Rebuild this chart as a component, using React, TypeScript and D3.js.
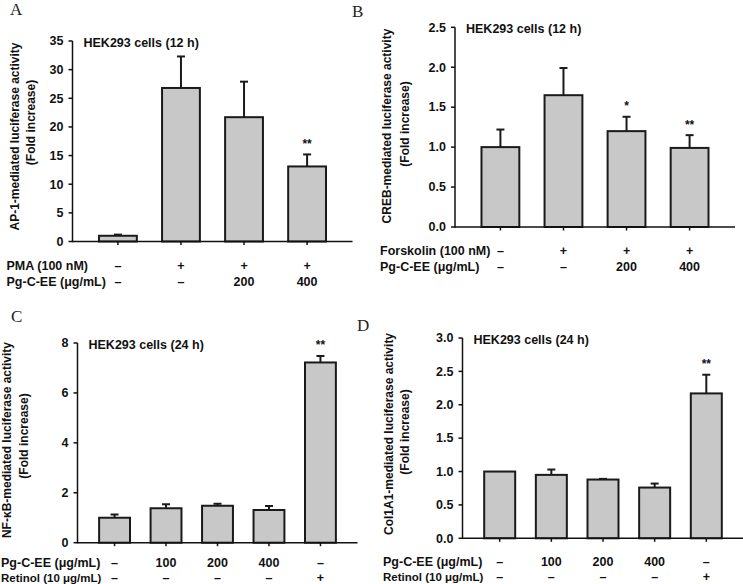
import React from "react";
import * as d3 from "d3";

// ---------- DATA ----------
// Panel A: AP-1
const apValues = [1.0, 26.8, 21.7, 13.1];
const apErrors = [0.2, 5.5, 6.2, 2.1];
const apSig = ["", "", "", "**"];
const apTicks = [0, 5, 10, 15, 20, 25, 30, 35];
const apRow1 = ["–", "+", "+", "+"];
const apRow2 = ["–", "–", "200", "400"];

// Panel B: CREB
const crebValues = [1.0, 1.65, 1.2, 0.99];
const crebErrors = [0.22, 0.34, 0.18, 0.16];
const crebSig = ["", "", "*", "**"];
const crebTicks = [0, 0.5, 1.0, 1.5, 2.0, 2.5];
const crebRow1 = ["–", "+", "+", "+"];
const crebRow2 = ["–", "–", "200", "400"];

// Panel C: NF-kB
const nfkbValues = [1.0, 1.38, 1.48, 1.31, 7.22];
const nfkbErrors = [0.13, 0.16, 0.08, 0.16, 0.26];
const nfkbSig = ["", "", "", "", "**"];
const nfkbTicks = [0, 2, 4, 6, 8];
const nfkbRow1 = ["–", "100", "200", "400", "–"];
const nfkbRow2 = ["–", "–", "–", "–", "+"];

// Panel D: Col1A1
const colValues = [1.0, 0.95, 0.88, 0.76, 2.17];
const colErrors = [0, 0.08, 0.01, 0.06, 0.28];
const colSig = ["", "", "", "", "**"];
const colTicks = [0, 0.5, 1.0, 1.5, 2.0, 2.5, 3.0];
const colRow1 = ["–", "100", "200", "400", "–"];
const colRow2 = ["–", "–", "–", "–", "+"];

const SANS = "'Liberation Sans', Arial, Helvetica, sans-serif";
const SERIF = "'Liberation Serif', 'Times New Roman', serif";

type PanelProps = {
  letter: string;
  letterX: number;
  letterY: number;
  left: number;
  top: number;
  bottom: number;
  width: number;
  values: number[];
  errors: number[];
  sig: string[];
  ticks: number[];
  fmt: (v: number) => string;
  title: string;
  yLabel1: string;
  yLabel2: string;
  yl1: [number, number];
  yl2: [number, number];
  rowLabel1: string;
  rowLabel2: string;
  row2Size?: number;
  row1: string[];
  row2: string[];
  rowX: number;
  rowY1: number;
  rowY2: number;
};

function Panel(p: PanelProps) {
  const n = p.values.length;
  const yMax = p.ticks[p.ticks.length - 1];
  const x = d3
    .scaleBand<number>()
    .domain(d3.range(n))
    .range([p.left, p.left + p.width])
    .paddingInner(0.4)
    .paddingOuter(0.42);
  const y = d3.scaleLinear().domain([0, yMax]).range([p.bottom, p.top]);
  const bw = x.bandwidth();
  const cx = (i: number) => (x(i) as number) + bw / 2;
  return (
    <g>
      <text x={p.letterX} y={p.letterY} fontFamily={SERIF} fontSize={17} fill="#222">
        {p.letter}
      </text>
      {/* y label */}
      <text
        transform={`translate(${p.yl1[0]},${p.yl1[1]}) rotate(-90)`}
        textAnchor="middle"
        fontFamily={SANS}
        fontWeight="bold"
        fontSize={12}
        fill="#111"
      >
        {p.yLabel1}
      </text>
      <text
        transform={`translate(${p.yl2[0]},${p.yl2[1]}) rotate(-90)`}
        textAnchor="middle"
        fontFamily={SANS}
        fontWeight="bold"
        fontSize={12}
        fill="#111"
      >
        {p.yLabel2}
      </text>
      {/* title */}
      <text
        x={p.left + 11}
        y={p.top + 6}
        fontFamily={SANS}
        fontWeight="bold"
        fontSize={12.5}
        fill="#111"
      >
        {p.title}
      </text>
      {/* bars */}
      {p.values.map((v, i) => (
        <rect
          key={"b" + i}
          x={x(i)}
          y={y(v)}
          width={bw}
          height={p.bottom - y(v)}
          fill="#c8c8c8"
          stroke="#1a1a1a"
          strokeWidth={2}
        />
      ))}
      {/* error bars */}
      {p.values.map((v, i) =>
        p.errors[i] > 0 ? (
          <g key={"e" + i} stroke="#1a1a1a" strokeWidth={2}>
            <line x1={cx(i)} x2={cx(i)} y1={y(v)} y2={y(v + p.errors[i])} />
            <line x1={cx(i) - 4} x2={cx(i) + 4} y1={y(v + p.errors[i])} y2={y(v + p.errors[i])} />
          </g>
        ) : null
      )}
      {/* significance */}
      {p.values.map((v, i) =>
        p.sig[i] ? (
          <text
            key={"s" + i}
            x={cx(i)}
            y={y(v + p.errors[i]) - 6.5}
            textAnchor="middle"
            fontFamily={SANS}
            fontWeight="bold"
            fontSize={12}
            fill="#111"
          >
            {p.sig[i]}
          </text>
        ) : null
      )}
      {/* y axis */}
      <line x1={p.left} x2={p.left} y1={p.bottom + 0.75} y2={p.top} stroke="#111" strokeWidth={1.5} />
      {p.ticks.map((t) => (
        <g key={"t" + t}>
          <line x1={p.left - 4} x2={p.left} y1={y(t)} y2={y(t)} stroke="#111" strokeWidth={1.5} />
          <text
            x={p.left - 9}
            y={y(t) + 4.3}
            textAnchor="end"
            fontFamily={SANS}
            fontWeight="bold"
            fontSize={12.5}
            fill="#111"
          >
            {p.fmt(t)}
          </text>
        </g>
      ))}
      {/* x axis */}
      <line x1={p.left} x2={p.left + p.width} y1={p.bottom} y2={p.bottom} stroke="#111" strokeWidth={1.5} />
      {p.values.map((_, i) => (
        <line key={"xt" + i} x1={cx(i)} x2={cx(i)} y1={p.bottom} y2={p.bottom + 3.5} stroke="#111" strokeWidth={1.5} />
      ))}
      {/* condition rows */}
      <text x={p.rowX} y={p.rowY1} fontFamily={SANS} fontWeight="bold" fontSize={12.5} fill="#111">
        {p.rowLabel1}
      </text>
      <text x={p.rowX} y={p.rowY2} fontFamily={SANS} fontWeight="bold" fontSize={p.row2Size ?? 12.5} fill="#111">
        {p.rowLabel2}
      </text>
      {p.row1.map((m, i) => (
        <text key={"r1" + i} x={cx(i)} y={p.rowY1} textAnchor="middle" fontFamily={SANS} fontWeight="bold" fontSize={12.5} fill="#111">
          {m}
        </text>
      ))}
      {p.row2.map((m, i) => (
        <text key={"r2" + i} x={cx(i)} y={p.rowY2} textAnchor="middle" fontFamily={SANS} fontWeight="bold" fontSize={12.5} fill="#111">
          {m}
        </text>
      ))}
    </g>
  );
}

const f0 = (v: number) => d3.format("d")(v);
const f1 = (v: number) => d3.format(".1f")(v);

export default function App() {
  return (
    <svg
      width={743}
      height={584}
      viewBox="0 0 743 584"
      style={{ position: "absolute", left: 0, top: 0, background: "#fff" }}
    >
      <rect width={743} height={584} fill="#fff" />
      <Panel
        letter="A"
        letterX={10}
        letterY={15}
        left={72.5}
        top={41}
        bottom={241.5}
        width={280}
        values={apValues}
        errors={apErrors}
        sig={apSig}
        ticks={apTicks}
        fmt={f0}
        title="HEK293 cells (12 h)"
        yLabel1="AP-1-mediated luciferase activity"
        yLabel2="(Fold increase)"
        yl1={[18.5, 136.5]}
        yl2={[35, 122.5]}
        rowLabel1="PMA (100 nM)"
        rowLabel2="Pg-C-EE (μg/mL)"
        row1={apRow1}
        row2={apRow2}
        rowX={6.5}
        rowY1={269.5}
        rowY2={286}
      />
      <Panel
        letter="B"
        letterX={352}
        letterY={17}
        left={455}
        top={27.3}
        bottom={227}
        width={280}
        values={crebValues}
        errors={crebErrors}
        sig={crebSig}
        ticks={crebTicks}
        fmt={f1}
        title="HEK293 cells (12 h)"
        yLabel1="CREB-mediated luciferase activity"
        yLabel2="(Fold increase)"
        yl1={[390.5, 126]}
        yl2={[408.5, 124]}
        rowLabel1="Forskolin (100 nM)"
        rowLabel2="Pg-C-EE (μg/mL)"
        row1={crebRow1}
        row2={crebRow2}
        rowX={380}
        rowY1={254.5}
        rowY2={271}
      />
      <Panel
        letter="C"
        letterX={11}
        letterY={322}
        left={77.5}
        top={343}
        bottom={542.7}
        width={280}
        values={nfkbValues}
        errors={nfkbErrors}
        sig={nfkbSig}
        ticks={nfkbTicks}
        fmt={f0}
        title="HEK293 cells (24 h)"
        yLabel1="NF-κB-mediated luciferase activity"
        yLabel2="(Fold increase)"
        yl1={[11, 440]}
        yl2={[28, 436]}
        rowLabel1="Pg-C-EE (μg/mL)"
        rowLabel2="Retinol (10 μg/mL)"
        row2Size={11.5}
        row1={nfkbRow1}
        row2={nfkbRow2}
        rowX={1}
        rowY1={567}
        rowY2={581.5}
      />
      <Panel
        letter="D"
        letterX={357}
        letterY={331}
        left={462.5}
        top={338}
        bottom={538.3}
        width={281}
        values={colValues}
        errors={colErrors}
        sig={colSig}
        ticks={colTicks}
        fmt={f1}
        title="HEK293 cells (24 h)"
        yLabel1="Col1A1-mediated luciferase activity"
        yLabel2="(Fold increase)"
        yl1={[392.5, 434]}
        yl2={[408.5, 432]}
        rowLabel1="Pg-C-EE (μg/mL)"
        rowLabel2="Retinol (10 μg/mL)"
        row2Size={11.5}
        row1={colRow1}
        row2={colRow2}
        rowX={383}
        rowY1={566}
        rowY2={581}
      />
    </svg>
  );
}
